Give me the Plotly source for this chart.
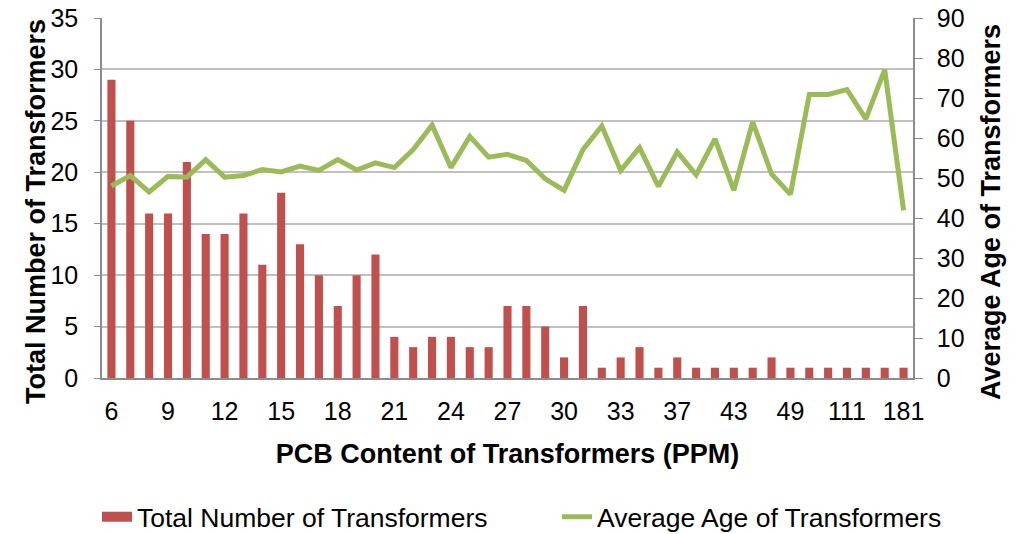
import plotly.graph_objects as go

categories = ["6","7","8","9","10","11","12","13","14","15","16","17","18","19","20",
              "21","22","23","24","25","26","27","28","29","30","31","32","33","34","36",
              "37","39","41","43","45","47","49","57","86","111","120","150","181"]
total_count = [29,25,16,16,21,14,14,16,11,18,13,10,7,10,12,
               4,3,4,4,3,3,7,7,5,2,7,1,2,3,1,
               2,1,1,1,1,2,1,1,1,1,1,1,1]
avg_age = [48,50.6,46.5,50.4,50.2,54.6,50.2,50.6,52.1,51.5,53,51.9,54.6,52,53.8,
           52.6,57.1,63.2,52.6,60.4,55.2,55.9,54.4,49.8,46.9,57.1,63,51.9,57.6,47.9,
           56.5,50.8,59.8,46.9,64,51,45.9,70.9,70.9,72.1,64.8,77.1,41.9]
shown_ticks = ["6","9","12","15","18","21","24","27","30","33","37","43","49","111","181"]

FONT = "Liberation Sans, Arial, sans-serif"
GRID = "#c0c0c0"
AXIS = "#8c8c8c"
BAR_COLOR = "#c0504d"
LINE_COLOR = "#9bbb59"

W, H = 1019, 534
L, T = 102, 18
PW, PH = 811, 360
R, B = W - L - PW, H - T - PH


def px_x(x):
    return (x - L) / PW


def px_y(y):
    return 1 - (y - T) / PH


fig = go.Figure()
fig.add_trace(go.Bar(x=categories, y=total_count, name="Total Number of Transformers",
                     marker=dict(color=BAR_COLOR, line=dict(width=0)), yaxis="y",
                     showlegend=False))
# legend entry drawn as a wide red band like the reference's legend key
fig.add_trace(go.Scatter(x=[categories[0]], y=[None], name="Total Number of Transformers",
                         mode="lines", line=dict(color=BAR_COLOR, width=10), yaxis="y",
                         legendwidth=415))
fig.add_trace(go.Scatter(x=categories, y=avg_age, name="Average Age of Transformers",
                         mode="lines", line=dict(color=LINE_COLOR, width=5), yaxis="y2",
                         legendwidth=365))

fig.update_layout(
    width=W, height=H,
    margin=dict(l=L, r=R, t=T, b=B, autoexpand=False),
    paper_bgcolor="white", plot_bgcolor="white",
    font=dict(family=FONT, size=25, color="#000000"),
    bargap=0.57,
    showlegend=True,
    legend=dict(orientation="h", xref="paper", x=px_x(97), xanchor="left",
                yref="paper", y=px_y(517), yanchor="middle",
                font=dict(size=26.5, family=FONT),
                traceorder="normal", bgcolor="rgba(0,0,0,0)"),
    xaxis=dict(type="category", categoryorder="array", categoryarray=categories,
               range=[-0.5, len(categories) - 0.5], automargin=False,
               tickmode="array", tickvals=shown_ticks, ticktext=shown_ticks,
               showline=True, linecolor=AXIS, linewidth=1.5, ticks="",
               ticklabelstandoff=10, ticklabeloverflow="allow",
               showgrid=False, tickfont=dict(size=25),
               title=dict(text="<b>PCB Content of Transformers (PPM)</b>",
                          font=dict(size=27), standoff=20)),
    yaxis=dict(range=[0, 35], dtick=5, showgrid=True, gridcolor=GRID, gridwidth=1.5,
               showline=True, linecolor=AXIS, linewidth=1.5, ticks="outside",
               ticklen=6, tickcolor=AXIS, tickfont=dict(size=25), zeroline=False,
               ticklabelstandoff=11, automargin=False, ticklabeloverflow="allow"),
    yaxis2=dict(range=[0, 90], dtick=10, overlaying="y", side="right", showgrid=False,
                showline=True, linecolor=AXIS, linewidth=1.5, ticks="outside",
                ticklen=8, tickcolor=AXIS, tickfont=dict(size=25), zeroline=False,
                ticklabelstandoff=9, automargin=False, ticklabeloverflow="allow"),
    annotations=[
        dict(text="<b>Total Number of Transformers</b>", textangle=-90,
             xref="paper", yref="paper", x=px_x(36), y=px_y(212),
             xanchor="center", yanchor="middle", showarrow=False,
             font=dict(size=27, family=FONT, color="#000000")),
        dict(text="<b>Average Age of Transformers</b>", textangle=-90,
             xref="paper", yref="paper", x=px_x(991), y=px_y(212),
             xanchor="center", yanchor="middle", showarrow=False,
             font=dict(size=27, family=FONT, color="#000000")),
    ],
)

fig.write_html("out.html",
               config={"displayModeBar": False},
               post_script="document.body.style.margin='0';document.body.style.overflow='hidden';")
